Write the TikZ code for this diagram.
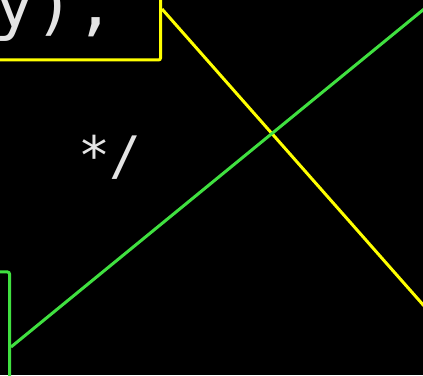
\documentclass[tikz,border=0pt]{standalone}
\usepackage{fontspec}
\setmonofont{DejaVu Sans Mono}
\usepackage{xcolor}
\usetikzlibrary{positioning}
\definecolor{codeyellow}{HTML}{FFFF00}
\definecolor{codegreen}{HTML}{40E040}
\definecolor{codetext}{HTML}{E4E4E4}

\begin{document}
\begin{tikzpicture}[
  x=1pt, y=1pt,
  codebox/.style={draw=codeyellow, line width=3pt, rounded corners=2pt, anchor=east, align=left, inner xsep=6pt, text=codetext},
  greenbox/.style={draw=codegreen, line width=3pt, rounded corners=2pt, anchor=east, minimum width=120pt, minimum height=150pt},
  comment/.style={text=codetext, inner sep=0pt},
  link/.style={line width=3pt}
]
\useasboundingbox (0,0) rectangle (423,375);
\fill[black] (0,0) rectangle (423,375);
\clip (0,0) rectangle (423,375);
\node[codebox, text width=160pt, minimum height=102pt, font=\ttfamily\fontsize{67}{67}\selectfont] (call) at (162,366) {y),};
\node[comment, font=\ttfamily\fontsize{53}{53}\selectfont] (close) at (110,218) {*/};
\node[greenbox] (block) at (11,28) {};
\coordinate (callout) at (440,51);
\coordinate (blockout) at (440,379);

\draw[link, codeyellow] (call.east) -- (callout);
\draw[link, codegreen] (block.east) -- (blockout);
\end{tikzpicture}
\end{document}
